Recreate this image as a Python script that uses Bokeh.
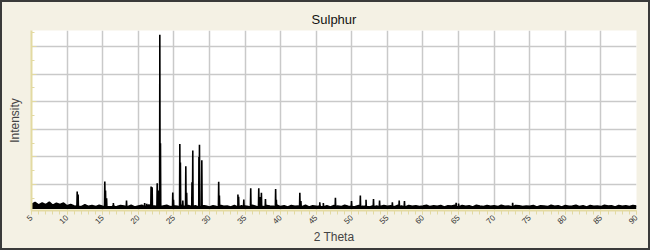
import math
from bokeh.plotting import figure
from bokeh.models import Range1d, FixedTicker, ColumnDataSource
from bokeh.embed import file_html
from bokeh.resources import INLINE

# ---- data ----
bg_theta = [5.0 + 0.5 * i for i in range(171)]
bg_top = [
    280, 350, 260, 330, 270, 360, 250, 320, 280, 330,
    230, 280, 220, 260, 200, 270, 210, 240, 200, 250,
    210, 240, 190, 260, 200, 240, 220, 200, 250, 190,
    220, 250, 200, 270, 230, 210, 240, 220, 250, 200,
    230, 210, 250, 220, 240, 200, 230, 210, 240, 220,
    190, 230, 200, 250, 210, 220, 190, 240, 200, 230,
    220, 200, 250, 210, 230, 200, 240, 220, 210, 250,
    200, 230, 190, 240, 210, 220, 200, 250, 190, 230,
    210, 250, 200, 230, 190, 240, 220, 200, 250, 210,
    230, 200, 240, 210, 250, 190, 230, 220, 200, 240,
    210, 230, 200, 250, 220, 190, 240, 210, 230, 200,
    220, 250, 200, 230, 210, 240, 190, 230, 220, 250,
    200, 240, 210, 230, 190, 250, 220, 200, 240, 210,
    230, 200, 250, 210, 220, 190, 240, 230, 200, 220,
    210, 240, 190, 230, 220, 200, 250, 210, 230, 190,
    240, 210, 220, 250, 200, 230, 190, 240, 210, 220,
    200, 250, 220, 230, 190, 240, 210, 230, 200, 240,
    220,
]
band_bottom = 115

peak_theta = [
    11.42, 11.55, 15.30, 15.40, 15.55, 16.50, 18.35, 20.90, 21.20, 21.80,
    21.95, 22.66, 22.80, 23.03, 23.12, 24.85, 24.95, 25.84, 25.92, 26.26,
    26.68, 26.80, 27.55, 27.66, 28.52, 28.60, 28.93, 31.30, 31.40, 34.00,
    34.10, 34.83, 35.80, 36.93, 37.10, 37.30, 37.87, 39.30, 39.40, 42.70,
    42.85, 45.50, 46.00, 47.70, 49.96, 51.20, 52.00, 53.05, 53.90, 55.70,
    56.66, 57.40, 64.66, 65.00, 72.60,
]
peak_intensity = [
    750, 640, 1110, 780, 500, 330, 420, 330, 300, 930,
    900, 1050, 780, 6430, 2500, 710, 450, 2470, 1800, 420,
    1660, 700, 1080, 2230, 2000, 2440, 1880, 1100, 600, 640,
    560, 460, 870, 870, 550, 700, 480, 840, 450, 700,
    400, 360, 330, 520, 400, 600, 450, 480, 420, 360,
    420, 400, 340, 310, 340,
]

x_ticks = [5, 10, 15, 20, 25, 30, 35, 40, 45, 50, 55, 60, 65, 70, 75, 80, 85, 90]
y_ticks = [1000, 2000, 3000, 4000, 5000, 6000]

# merge background and peak profiles
pts = list(zip(bg_theta, bg_top))
for t, h in zip(peak_theta, peak_intensity):
    pts.append((t - 0.04, 190))
    pts.append((t, h))
    pts.append((t + 0.04, 190))
pts.sort(key=lambda q: q[0])
src = ColumnDataSource(dict(theta=[q[0] for q in pts], counts=[q[1] for q in pts]))
band = ColumnDataSource(dict(theta=bg_theta, top=bg_top, bottom=[band_bottom] * len(bg_theta)))

BG = "#F4F1E4"
AX = "#E3DAA2"
GRID = "#C9C9C9"

# the host element gets a 2px dark border; canvas content is offset by 2px
p = figure(width=650, height=250, output_backend="svg", toolbar_location=None,
           x_range=Range1d(5, 90), y_range=Range1d(60, 6580),
           min_border_left=29, min_border_right=16, min_border_top=28, min_border_bottom=42)
p.styles = {"border": "2px solid #3A3A3A", "box-sizing": "border-box",
            "background-color": BG, "overflow": "hidden"}
p.background_fill_color = "white"
p.border_fill_color = BG
p.outline_line_color = None

p.title.text = "Sulphur"
p.title.align = "center"
p.title.vertical_align = "top"
p.title.text_font = "Liberation Sans"
p.title.text_font_size = "13px"
p.title.text_font_style = "normal"
p.title.text_color = "#111111"
p.title.standoff = 4

p.varea(x="theta", y1="bottom", y2="top", source=band, fill_color="black")
p.line("theta", "counts", source=src, line_color="black", line_width=1.6)

xa = p.xaxis[0]
xa.ticker = FixedTicker(ticks=x_ticks, minor_ticks=list(range(5, 91)))
xa.axis_line_color = AX
xa.axis_line_width = 2
xa.major_tick_line_color = AX
xa.minor_tick_line_color = AX
xa.major_tick_in = 0
xa.major_tick_out = 4
xa.minor_tick_in = 0
xa.minor_tick_out = 4
xa.major_label_orientation = math.pi / 4
xa.major_label_text_font = "Liberation Sans"
xa.major_label_text_font_size = "8px"
xa.major_label_text_color = "#333333"
xa.major_label_standoff = 2
xa.axis_label = "2 Theta"
xa.axis_label_text_font = "Liberation Sans"
xa.axis_label_text_font_size = "12px"
xa.axis_label_text_font_style = "normal"
xa.axis_label_standoff = 1

ya = p.yaxis[0]
ya.ticker = FixedTicker(ticks=y_ticks, minor_ticks=[500, 1500, 2500, 3500, 4500, 5500, 6500])
ya.axis_line_color = AX
ya.axis_line_width = 2
ya.major_tick_line_color = AX
ya.minor_tick_line_color = AX
ya.major_tick_in = 5
ya.major_tick_out = 0
ya.minor_tick_in = 3
ya.minor_tick_out = 0
ya.major_label_overrides = {t: "" for t in y_ticks}
ya.major_label_standoff = 0
ya.axis_label = "Intensity"
ya.axis_label_text_font = "Liberation Sans"
ya.axis_label_text_font_size = "12px"
ya.axis_label_text_font_style = "normal"
ya.axis_label_standoff = 10

p.xgrid.ticker = FixedTicker(ticks=x_ticks)
p.ygrid.ticker = FixedTicker(ticks=y_ticks)
p.xgrid.grid_line_color = GRID
p.ygrid.grid_line_color = GRID
p.xgrid.grid_line_width = 1.5
p.ygrid.grid_line_width = 1.5

open("out.html", "w").write(file_html(p, INLINE))
